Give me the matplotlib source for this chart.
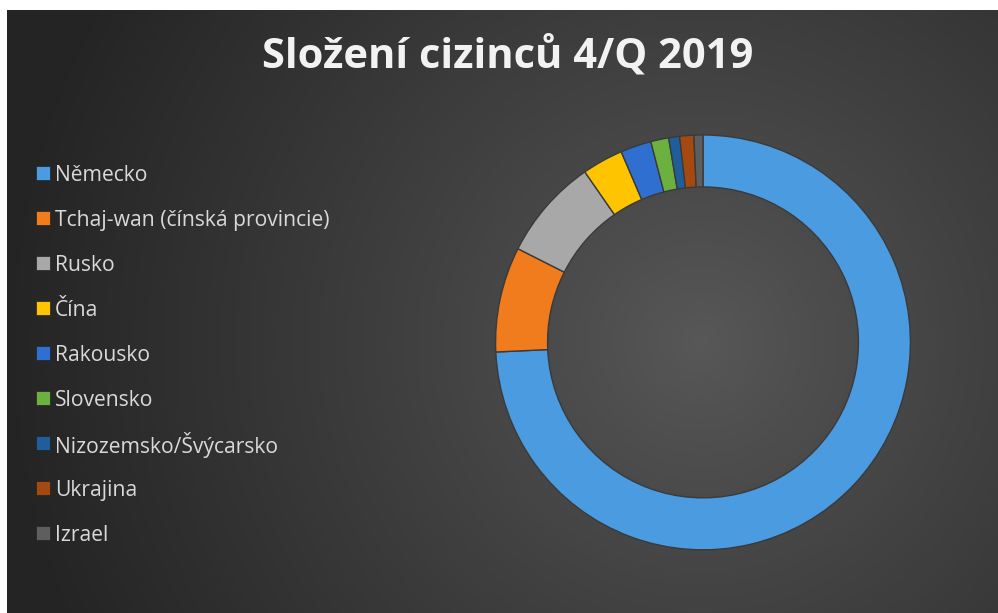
import numpy as np
import matplotlib
matplotlib.use("Agg")
import matplotlib.pyplot as plt
from matplotlib.patches import Rectangle

# ---- data ----
categories = ["Německo", "Tchaj-wan (čínská provincie)", "Rusko", "Čína", "Rakousko",
              "Slovensko", "Nizozemsko/Švýcarsko", "Ukrajina", "Izrael"]
shares = [74.3, 8.2, 7.9, 3.2, 2.4, 1.4, 0.85, 1.1, 0.7]
colors = ["#4A9BE0", "#F07C1E", "#A8A8A8", "#FFC400", "#2F6FD0",
          "#6CB040", "#1F5E9A", "#A44A10", "#5E5E5E"]
title = "Složení cizinců 4/Q 2019"

W, H = 998, 613
fig = plt.figure(figsize=(W / 100, H / 100), dpi=100)
fig.patch.set_facecolor("white")

# background with radial gradient
bg = fig.add_axes([7 / W, 0, (W - 7) / W, (H - 10) / H])
bg.set_axis_off()
yy, xx = np.mgrid[0:H - 10, 0:W - 7]
cx, cy = 700 - 7, 342 - 10
d = np.sqrt((xx - cx) ** 2 + (yy - cy) ** 2)
t = np.clip(d / 700.0, 0, 1) ** 0.9
c0 = np.array([0x58, 0x58, 0x58]) / 255
c1 = np.array([0x24, 0x24, 0x24]) / 255
img = c0[None, None, :] * (1 - t[..., None]) + c1[None, None, :] * t[..., None]
bg.imshow(img, aspect="auto", extent=[0, 1, 0, 1], origin="upper")
bg.set_xlim(0, 1)
bg.set_ylim(0, 1)

# donut
R = 209.5
cxp, cyp = 703, 342.4
ax = fig.add_axes([(cxp - R) / W, (H - cyp - R) / H, 2 * R / W, 2 * R / H])
ax.set_axis_off()
wedges, _ = ax.pie(shares, colors=colors, startangle=90, counterclock=False, radius=1,
                   wedgeprops=dict(width=(R - 157) / R, edgecolor="#3a3a3a", linewidth=1.0))
ax.set_xlim(-1.01, 1.01)
ax.set_ylim(-1.01, 1.01)
ax.set_aspect("equal")

# title
fig.text(508 / W, 1 - 57 / H, title, ha="center", va="center", fontsize=30,
         fontweight="bold", color="#F2F2F2", family="Open Sans")

# legend (manual layout, colours/labels from data)
y0, step = 173, 45
for i, (lab, col) in enumerate(zip(categories, colors)):
    yc = y0 + i * step
    fig.patches.append(Rectangle((36 / W, 1 - (yc + 7) / H), 14 / W, 14 / H,
                                 transform=fig.transFigure, facecolor=col,
                                 edgecolor="#222222", linewidth=0.5))
    fig.text(55 / W, 1 - yc / H, lab, ha="left", va="center_baseline",
             fontsize=15.2, color="#D9D9D9", family="Open Sans")

fig.savefig("out.png", dpi=100, facecolor=fig.get_facecolor())
